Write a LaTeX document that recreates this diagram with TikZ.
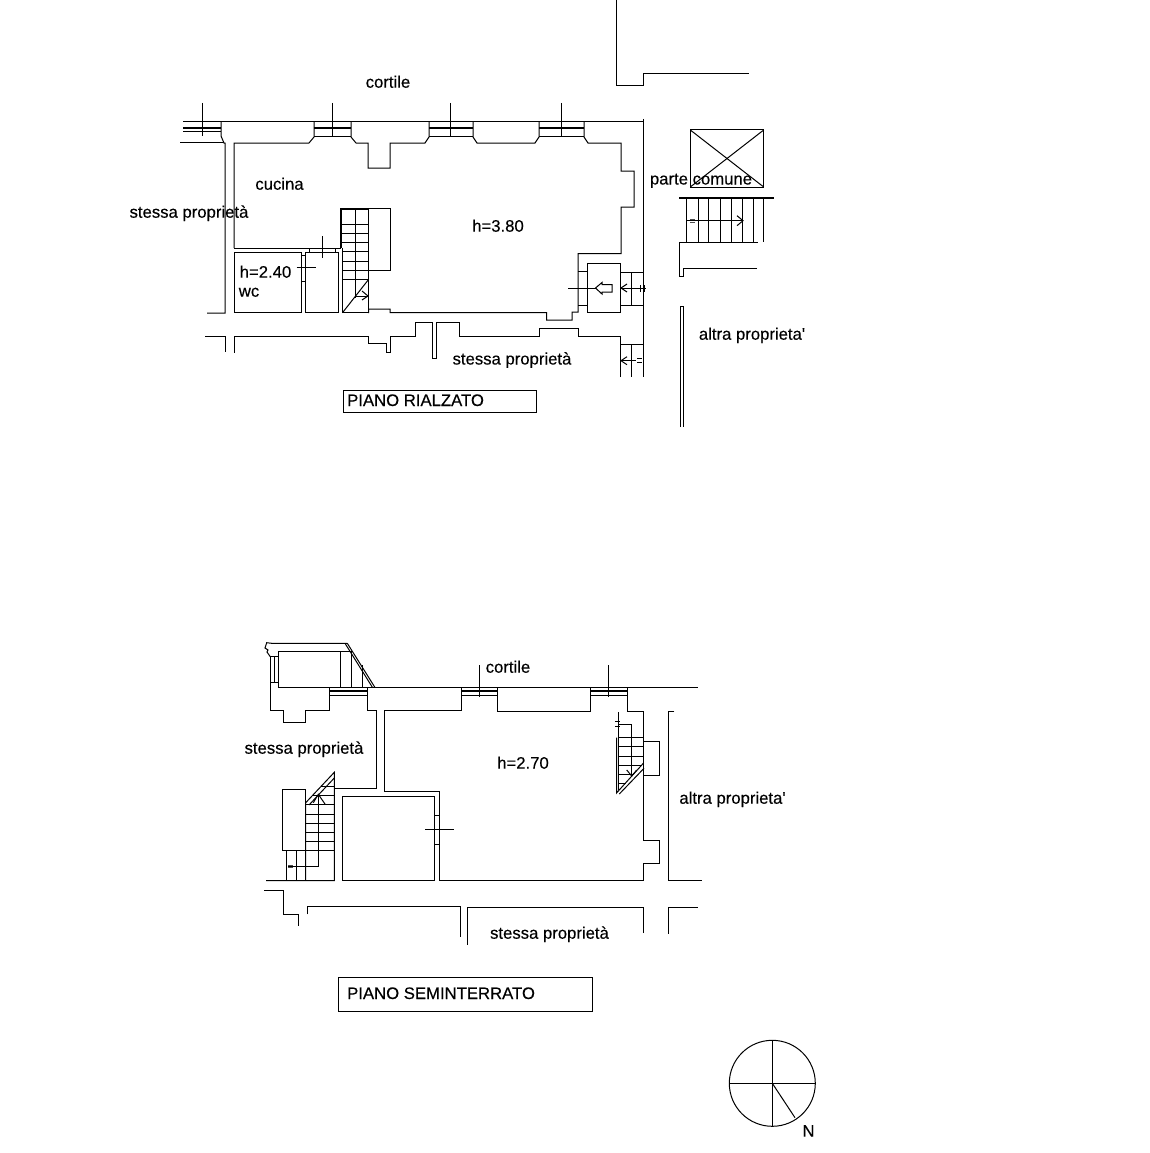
\documentclass[tikz,border=0pt]{standalone}
\usepackage{fontspec}
\newfontfamily\lblfont[FakeBold=0.25]{Liberation Sans}
\tikzset{
  wall/.style={draw=black,line width=1pt,line cap=butt,line join=miter},
  thin wall/.style={draw=black!70,line width=0.9pt},
  heavy/.style={draw=black,line width=2.4pt},
  lbl/.style={inner sep=0pt,anchor=base,font=\lblfont\fontsize{16.7}{18}\selectfont,text=black},
  lblw/.style={inner sep=0pt,anchor=base west,font=\lblfont\fontsize{16.7}{18}\selectfont,text=black},
  titlebox/.style={draw=black,line width=1pt,fill=none},
}
\begin{document}
\begin{tikzpicture}[x=1pt,y=-1pt]
\useasboundingbox (0,0) rectangle (1149,1153);
\fill[white] (0,0) rectangle (1149,1153);
% ---- PIANO RIALZATO: outer walls
\draw[wall] (221,122) -- (643,122);
\draw[wall] (643,119) -- (643,377);
\draw[wall] (183,122) -- (221,122);
\draw[wall] (183,131.5) -- (221,131.5);
\draw[wall] (180,142.5) -- (224,142.5);
\draw[heavy] (183,128) -- (221,128);
\draw[wall] (202,103) -- (202,136);
\draw[wall] (221,122) -- (221,136) -- (224,143) -- (225,143) -- (225,313) -- (207,313);
% inner perimeter
\draw[wall] (234,248) -- (234,143) -- (309,143) -- (314,137) -- (314,122);
\draw[wall] (351,122) -- (351,137) -- (356,143) -- (368,143) -- (368,168) -- (390,168) -- (390,143) -- (425,143) -- (429,137) -- (429,122);
\draw[wall] (473,122) -- (473,137) -- (477,143) -- (535,143) -- (539,137) -- (539,122);
\draw[wall] (584,122) -- (584,137) -- (588,143) -- (621,143) -- (621,171) -- (634,171) -- (634,207) -- (621,207) -- (621,253.5) -- (578,253.5) -- (578,312) -- (572,312) -- (572,320) -- (546.7,320) -- (546.7,312.7) -- (390,312.7) -- (390,309) -- (368.7,309) -- (368.7,313);
% windows
\foreach \a/\b/\m in {314/351/332,429/473/450.7,539/584/561}{
  \draw[heavy] (\a,128) -- (\b,128);
  \draw[wall] (\a,136) -- (\b,136);
  \draw[wall] (\m,103) -- (\m,136);
}
% kitchen / wc
\draw[wall] (234,248) -- (341,248);
\draw[wall] (234,252) rectangle (301.3,312.7);
\draw[wall] (305,252) rectangle (338.7,312.7);
\draw[wall] (301.3,255) -- (305,255);
\draw[wall] (301.3,281) -- (305,281);
\draw[wall] (309,248) -- (309,252);
\draw[wall] (335,248) -- (335,252);
\draw[wall] (322.3,236) -- (322.3,258);
\draw[wall] (296.7,267.3) -- (315.7,267.3);
% stair
\draw[heavy] (341,209) -- (368.7,209);
\draw[heavy] (341,208) -- (341,248);
\draw[wall] (368.7,208.5) -- (390,208.5) -- (390,270.5) -- (368.7,270.5);
\draw[wall] (368.7,209) -- (368.7,313);
\draw[wall] (355,209) -- (355,298);
\draw[wall] (342.5,248) -- (342.5,312.7) -- (368.7,312.7);
\foreach \yy in {224,233.3,242.7,251.7,261,270,279.3}{\draw[wall] (342,\yy) -- (368.7,\yy);}
\draw[wall] (368.7,279.3) -- (342.5,312.7);
\draw[wall] (355,296) -- (368,296);
\draw[wall] (362,291) -- (368,296) -- (362,300);
% door right
\draw[wall] (587.3,263) rectangle (620.7,312);
\draw[wall] (578,271.7) -- (587.3,271.7);
\draw[wall] (578,305) -- (587.3,305);
\draw[wall] (620.7,272) -- (643,272);
\draw[wall] (620.7,305) -- (643,305);
\draw[wall] (631.7,272) -- (631.7,305);
\draw[wall] (568,288) -- (595.5,288);
\draw[wall] (621,288) -- (646,288);
\draw[wall] (627,284) -- (621,288) -- (627,292);
\draw[wall] (640.7,285) -- (640.7,292);
\draw[wall] (644.3,285) -- (644.3,292);
\draw[wall] (595.5,288) -- (602,282.5) -- (602,284.7) -- (612,284.7) -- (612,292) -- (602,292) -- (602,294) -- cycle;
% lower passage
\draw[wall] (643,344) -- (620.7,344);
\draw[wall] (620.7,377) -- (620.7,336) -- (578,336) -- (578,328.3) -- (539.7,328.3) -- (539.7,336) -- (459.7,336) -- (459.7,322) -- (436,322) -- (436,358) -- (432,358) -- (432,322) -- (415,322) -- (415,336) -- (390,336) -- (390,352) -- (386,352) -- (386,343) -- (368.3,343) -- (368.3,336) -- (234,336) -- (234,353);
\draw[wall] (205,336.7) -- (225,336.7) -- (225,352);
\draw[wall] (631.7,344) -- (631.7,377);
\draw[wall] (621,360.7) -- (636,360.7);
\draw[wall] (627,356.7) -- (621,360.7) -- (627,364.7);
\draw[wall] (637,358.7) -- (642,358.7);
\draw[wall] (637,362) -- (642,362);
% right side
\draw[wall] (616.7,0) -- (616.7,86) -- (643,86) -- (643,73.5) -- (749,73.5);
\draw[wall] (690.3,130) rectangle (763.7,187);
\draw[wall] (690.3,130) -- (763.7,187);
\draw[wall] (763.7,130) -- (690.3,187);
\draw[heavy] (679,197.7) -- (774,197.7);
\foreach \xx in {686.7,698,708.7,720,731,742.3,753.7,763.7}{\draw[wall] (\xx,198) -- (\xx,242);}
\draw[wall] (757,268.3) -- (683.3,268.3) -- (683.3,276.7) -- (679.3,276.7) -- (679.3,242.3) -- (758,242.3);
\draw[wall] (687,220.7) -- (743,220.7);
\draw[wall] (737,215.7) -- (743,220.7) -- (737,225.7);
\draw[thin wall] (690,219) -- (695,219);
\draw[thin wall] (690,222) -- (695,222);
\draw[wall] (680,427) -- (680,306) -- (683.7,306) -- (683.7,427);
% labels
\node[lbl] (n1) at (388,87.7) {cortile};
\node[lbl] (n2) at (279.5,189.7) {cucina};
\node[lbl] (n3) at (189,217.7) {stessa proprietà};
\node[lbl] (n4) at (498,231.7) {h=3.80};
\node[lbl] (n5) at (265.5,277.7) {h=2.40};
\node[lbl] (n6) at (249,296.7) {wc};
\node[lbl] (n7) at (701,184.5) {parte comune};
\node[lbl] (n8) at (752,339.7) {altra proprieta'};
\node[lbl] (n9) at (512,364.5) {stessa proprietà};
\draw[titlebox] (343.5,390) rectangle (536,412);
\node[lblw] (n10) at (347,406) {PIANO RIALZATO};
% ---- PIANO SEMINTERRATO
\draw[wall] (278.3,687.5) -- (698,687.5);
\foreach \a/\b in {329.7/367.7,461/497.3,590.7/627}{
  \draw[heavy] (\a,691) -- (\b,691);
  \draw[wall] (\a,695) -- (\b,695);
}
\draw[wall] (479.3,665) -- (479.3,697.3);
\draw[wall] (608.3,665) -- (608.3,697.3);
\draw[wall] (367.7,687.5) -- (367.7,710.7) -- (376.7,710.7) -- (376.7,788.7) -- (335,788.7);
\draw[wall] (461,687.5) -- (461,710.7) -- (384.3,710.7) -- (384.3,791.7) -- (439.3,791.7) -- (439.3,880.5) -- (643.3,880.5) -- (643.3,863.3) -- (659,863.3) -- (659,840.3) -- (643.3,840.3) -- (643.3,711) -- (627,711) -- (627,687.5);
\draw[wall] (497.3,687.5) -- (497.3,711) -- (590,711) -- (590,687.5);
\draw[wall] (643.3,741) -- (659,741) -- (659,775.7) -- (643.3,775.7);
% right stair
\draw[wall] (616.5,737.7) -- (616.5,793) -- (643.3,763.3);
\draw[wall] (618.3,712) -- (618.3,790);
\draw[wall] (619.3,794) -- (644,768.3);
\foreach \yy/\xe in {737.7/643.3,746.7/643.3,756/643.3,765/642,774/634,783.3/626}{\draw[wall] (618.3,\yy) -- (\xe,\yy);}
\draw[wall] (618.3,724.7) -- (631.7,724.7) -- (631.7,776);
\draw[wall] (626.7,770) -- (631.7,776) -- (636.7,770);
\draw[wall] (615,721.7) -- (620,721.7);
\draw[wall] (615,726) -- (620,726);
% room
\draw[wall] (342.3,796.3) rectangle (434.3,880.5);
\draw[wall] (434.3,815.3) -- (439.3,815.3);
\draw[wall] (434.3,844.3) -- (439.3,844.3);
\draw[wall] (425,829.3) -- (453.7,829.3);
% outside right
\draw[wall] (674.3,711) -- (668.3,711) -- (668.3,880) -- (702.3,880);
\draw[wall] (697.7,907) -- (668,907) -- (668,934);
\draw[wall] (643.3,933) -- (643.3,907) -- (467.5,907) -- (467.5,945);
\draw[wall] (307.3,914.3) -- (307.3,906.7) -- (460,906.7) -- (460,936.7);
\draw[wall] (264.3,890.7) -- (283,890.7) -- (283,914.3) -- (298.3,914.3) -- (298.3,925.7);
% left stair
\draw[wall] (266,880.5) -- (334.3,880.5) -- (334.3,772.3) -- (305.7,802.7) -- (305.7,880.5);
\draw[wall] (334.3,778) -- (309,805);
\foreach \yy/\xs in {786.7/321,795/313,804.3/305.7,814/305.7,823.3/305.7,832.7/305.7,841.7/305.7,850.7/305.7}{\draw[wall] (\xs,\yy) -- (334.3,\yy);}
\draw[wall] (305.7,802.7) -- (305.7,789) -- (282.7,789) -- (282.7,850.7) -- (305.7,850.7);
\draw[wall] (286.3,850.7) -- (286.3,880.5);
\draw[wall] (296,850.7) -- (296,880.5);
\draw[wall] (288,866) -- (318.3,866) -- (318.3,794);
\draw[wall] (313.3,802.7) -- (318.3,794.3) -- (325,804);
\draw[thin wall] (288.3,865) -- (293.3,865);
\draw[thin wall] (288.3,867.5) -- (293.3,867.5);
% top-left structure
\draw[wall] (278.3,687.5) -- (278.3,651.7) -- (352,651.7);
\draw[wall] (340.3,651.7) -- (340.3,687.5);
\draw[wall] (351.7,651.7) -- (351.7,687.5);
\draw[wall] (362.3,665) -- (362.3,687.5);
\draw[wall] (347.3,643.3) -- (375,687.5);
\draw[wall] (345,643.3) -- (372.5,687.5);
\draw[wall] (347.3,643.3) -- (271.7,643.3) -- (266.7,642.7) -- (265,648) -- (268,650) -- (267,652) -- (270.3,656.7);
\draw[wall] (270.3,656.7) -- (278.3,656.7);
\draw[wall] (270.3,682.3) -- (278.3,682.3);
\draw[wall] (274,656.7) -- (274,682.3);
\draw[wall] (270.3,656.7) -- (270.3,710.7) -- (283.3,710.7) -- (283.3,722) -- (305.7,722) -- (305.7,710.7) -- (329.7,710.7) -- (329.7,687.5);
% labels
\node[lbl] (n11) at (508,672.7) {cortile};
\node[lbl] (n12) at (304,753.7) {stessa proprietà};
\node[lbl] (n13) at (523,768.7) {h=2.70};
\node[lbl] (n14) at (732.5,803.7) {altra proprieta'};
\node[lbl] (n15) at (549.5,938.7) {stessa proprietà};
\draw[titlebox] (338,977.5) rectangle (592,1011);
\node[lblw] (n16) at (347,999) {PIANO SEMINTERRATO};
% compass
\draw[wall] (772.3,1083.3) circle (43);
\draw[wall] (729.3,1083.3) -- (815.3,1083.3);
\draw[wall] (772.3,1040.3) -- (772.3,1126.3);
\draw[wall] (772.3,1083.3) -- (795,1117.7);
\node[lbl] (n17) at (808.5,1136.7) {N};
\end{tikzpicture}
\end{document}
